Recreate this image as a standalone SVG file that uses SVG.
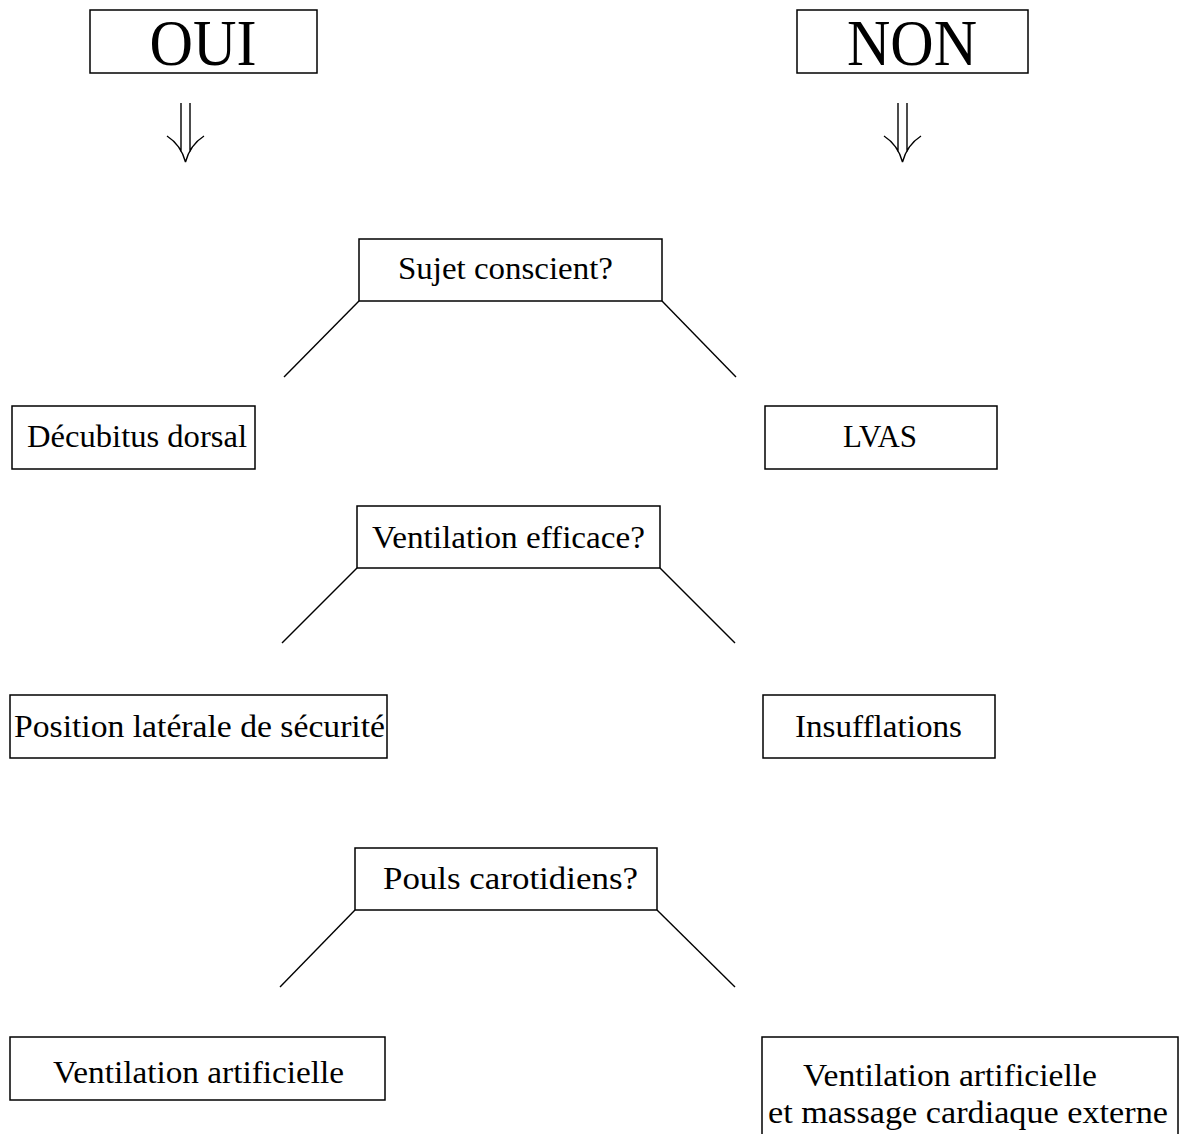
<svg xmlns="http://www.w3.org/2000/svg" width="1180" height="1134" viewBox="0 0 1180 1134">
<style>
.box{fill:#fff;stroke:#000;stroke-width:1.5}
.t{font-family:"Liberation Serif","Times New Roman",serif;font-size:31px;fill:#000}
.big{font-family:"Liberation Serif","Times New Roman",serif;font-size:66px;fill:#000;text-anchor:middle}
.ln{fill:none;stroke:#000;stroke-width:1.4}
</style>
<rect width="1180" height="1134" fill="#fff"/>
<g id="connectors">
<path class="ln" d="M181,103 V152 M190,103 V152 M167,136 Q181,145 185.5,162 M204,136 Q190,145 185.5,162"/>
<path class="ln" d="M898,103 V152 M907,103 V152 M884,136 Q898,145 902.5,162 M921,136 Q907,145 902.5,162"/>
<line class="ln" x1="359" y1="301" x2="284" y2="377"/>
<line class="ln" x1="662" y1="301" x2="736" y2="377"/>
<line class="ln" x1="357" y1="568" x2="282" y2="643"/>
<line class="ln" x1="660" y1="568" x2="735" y2="643"/>
<line class="ln" x1="355" y1="910" x2="280" y2="987"/>
<line class="ln" x1="657" y1="910" x2="735" y2="987"/>
</g>
<g id="oui"><rect class="box" x="90" y="10" width="227" height="63"/><text class="big" x="203" y="65" textLength="107" lengthAdjust="spacingAndGlyphs">OUI</text></g>
<g id="non"><rect class="box" x="797" y="10" width="231" height="63"/><text class="big" x="912" y="65" textLength="130" lengthAdjust="spacingAndGlyphs">NON</text></g>
<g id="sujet"><rect class="box" x="359" y="239" width="303" height="62"/><text class="t" x="398" y="279" textLength="215" lengthAdjust="spacingAndGlyphs">Sujet conscient?</text></g>
<g id="decubitus"><rect class="box" x="12" y="406" width="243" height="63"/><text class="t" x="27" y="447" textLength="220" lengthAdjust="spacingAndGlyphs">Décubitus dorsal</text></g>
<g id="lvas"><rect class="box" x="765" y="406" width="232" height="63"/><text class="t" x="843" y="447" textLength="74" lengthAdjust="spacingAndGlyphs">LVAS</text></g>
<g id="ventilation-efficace"><rect class="box" x="357" y="506" width="303" height="62"/><text class="t" x="372" y="548" textLength="273" lengthAdjust="spacingAndGlyphs">Ventilation efficace?</text></g>
<g id="position"><rect class="box" x="10" y="695" width="377" height="63"/><text class="t" x="14" y="737" textLength="371" lengthAdjust="spacingAndGlyphs">Position latérale de sécurité</text></g>
<g id="insufflations"><rect class="box" x="763" y="695" width="232" height="63"/><text class="t" x="795" y="737" textLength="167" lengthAdjust="spacingAndGlyphs">Insufflations</text></g>
<g id="pouls"><rect class="box" x="355" y="848" width="302" height="62"/><text class="t" x="383" y="889" textLength="255" lengthAdjust="spacingAndGlyphs">Pouls carotidiens?</text></g>
<g id="ventilation-artificielle"><rect class="box" x="10" y="1037" width="375" height="63"/><text class="t" x="53" y="1083" textLength="291" lengthAdjust="spacingAndGlyphs">Ventilation artificielle</text></g>
<g id="ventilation-massage"><rect class="box" x="762" y="1037" width="416" height="110"/><text class="t" x="803" y="1086" textLength="294" lengthAdjust="spacingAndGlyphs">Ventilation artificielle</text><text class="t" x="768" y="1123" textLength="400" lengthAdjust="spacingAndGlyphs">et massage cardiaque externe</text></g>
</svg>
